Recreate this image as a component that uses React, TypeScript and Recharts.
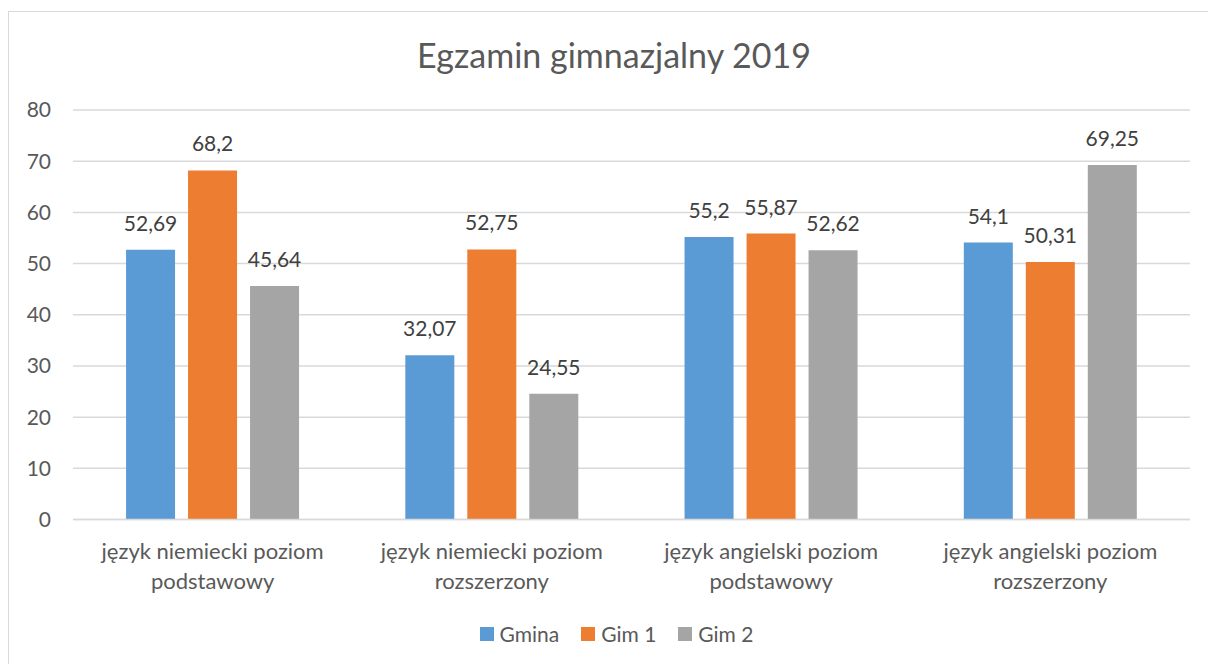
import React from "react";
import { BarChart, Bar, XAxis, YAxis, CartesianGrid, Legend, LabelList } from "recharts";

const categories = [
  "język niemiecki poziom podstawowy",
  "język niemiecki poziom rozszerzony",
  "język angielski poziom podstawowy",
  "język angielski poziom rozszerzony",
];
const gmina = [52.69, 32.07, 55.2, 54.1];
const gim1 = [68.2, 52.75, 55.87, 50.31];
const gim2 = [45.64, 24.55, 52.62, 69.25];
const yTicks = [0, 10, 20, 30, 40, 50, 60, 70, 80];
const seriesNames = ["Gmina", "Gim 1", "Gim 2"];
const seriesColors = ["#5B9BD5", "#ED7D31", "#A5A5A5"];
const title = "Egzamin gimnazjalny 2019";

const data = categories.map((c, i) => ({ name: c, Gmina: gmina[i], "Gim 1": gim1[i], "Gim 2": gim2[i] }));

const FONT = "Lato, 'Open Sans', sans-serif";
const TEXT = "#595959";

const fmt = (v: any) => String(v).replace(".", ",");

const CategoryTick = (props: any) => {
  const { x, y, payload } = props;
  const words = String(payload.value).split(" ");
  const line2 = words.pop();
  const line1 = words.join(" ");
  return (
    <g>
      <text x={x} y={y + 39.5} textAnchor="middle" fill={TEXT} fontSize={22} fontFamily={FONT}>{line1}</text>
      <text x={x} y={y + 69} textAnchor="middle" fill={TEXT} fontSize={22} fontFamily={FONT}>{line2}</text>
    </g>
  );
};

const LegendContent = () => (
  <div style={{ display: "flex", justifyContent: "center", alignItems: "center", height: 24, paddingLeft: 34, fontFamily: FONT, fontSize: 21, color: TEXT }}>
    {seriesNames.map((n, i) => (
      <div key={n} style={{ display: "flex", alignItems: "center", marginRight: i < seriesNames.length - 1 ? 22 : 0 }}>
        <div style={{ width: 14, height: 14, background: seriesColors[i], marginRight: 6 }} />
        <span style={{ lineHeight: "24px" }}>{n}</span>
      </div>
    ))}
  </div>
);

export default function App() {
  return (
    <div style={{ position: "absolute", left: 8, top: 11, width: 1200, height: 653, borderLeft: "1px solid #d9d9d9", borderTop: "1px solid #d9d9d9", boxSizing: "border-box", background: "#fff", overflow: "hidden" }}>
      <svg style={{ position: "absolute", left: 0, top: 0 }} width={1199} height={80}>
        <text x={614 - 9} y={67.7 - 12} textAnchor="middle" fill={TEXT} fontSize={34} fontFamily={FONT}>{title}</text>
      </svg>
      <div style={{ position: "absolute", left: 0, top: 0 }}>
        <BarChart width={1199} height={652} data={data} margin={{ top: 98, right: 18, left: 0, bottom: 18 }} barCategoryGap="19%" barGap={13}>
          <CartesianGrid vertical={false} stroke="#d9d9d9" strokeWidth={1.5} />
          <XAxis dataKey="name" axisLine={{ stroke: "#d9d9d9", strokeWidth: 1.5 }} tickLine={false} tickSize={0} tickMargin={0} height={102.5} interval={0} tick={<CategoryTick />} />
          <YAxis domain={[0, 80]} ticks={yTicks} width={64} axisLine={false} tickLine={false} tickSize={0} tickMargin={22} tick={{ fill: TEXT, fontSize: 21, fontFamily: FONT }} />
          <Legend verticalAlign="bottom" content={<LegendContent />} />
          {seriesNames.map((n, i) => (
            <Bar key={n} dataKey={n} fill={seriesColors[i]} isAnimationActive={false}>
              <LabelList dataKey={n} position="top" offset={19} formatter={fmt} fill="#404040" fontSize={21} fontFamily={FONT} />
            </Bar>
          ))}
        </BarChart>
      </div>
    </div>
  );
}
